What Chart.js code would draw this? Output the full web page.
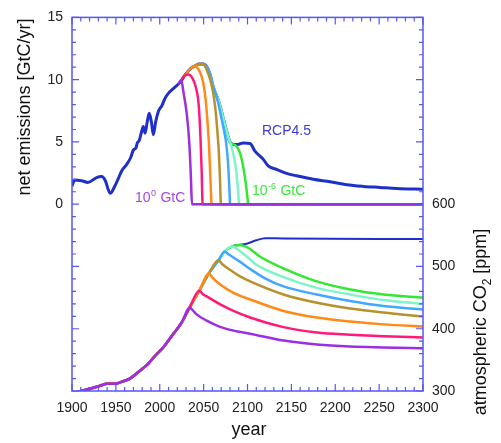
<!DOCTYPE html>
<html>
<head>
<meta charset="utf-8">
<script src="https://cdn.jsdelivr.net/npm/chart.js@4.4.1/dist/chart.umd.min.js"></script>
<style>
  html, body { margin: 0; padding: 0; background: #fff; }
  canvas { display: block; }
</style>
</head>
<body>
<canvas id="chart" width="501" height="443"></canvas>
<script>
// tick labels that are printed
const xTickLabels = [1900, 1950, 2000, 2050, 2100, 2150, 2200, 2250, 2300];
const emTickLabels = [0, 5, 10, 15];
const co2TickLabels = [300, 400, 500, 600];

// scenario names (remaining cumulative emissions)
const scenarioNames = ['10^0 GtC', '10^-1 GtC', '10^-2 GtC', '10^-3 GtC', '10^-4 GtC', '10^-5 GtC', '10^-6 GtC'];

// RCP4.5 net emissions [year, GtC/yr]
const rcpEmissions = [
  [1900, 1.45], [1903, 1.95], [1911, 1.88], [1918, 1.75], [1928, 2.14], [1934, 2.22], [1938, 1.88],
  [1943.5, 0.87], [1949, 1.48], [1953, 2.1], [1956.6, 2.67], [1962.3, 3.2], [1966.8, 3.73], [1969.9, 4.34],
  [1972.9, 4.52], [1974.4, 4.92], [1976.7, 5.13], [1979.4, 5.85], [1981.3, 6.24], [1983.2, 5.7],
  [1985.8, 6.64], [1988, 7.3], [1990.4, 6.64], [1992.7, 5.58], [1995.4, 6.64], [1998.4, 7.44],
  [2000.3, 7.7], [2002.2, 7.88], [2006, 8.5], [2009.8, 8.9], [2015.5, 9.28], [2021, 9.63], [2025, 9.95],
  [2028, 10.3], [2032, 10.65], [2036, 10.95], [2040, 11.1],
  [2045, 11.25], [2050, 11.25], [2053, 11.1], [2057, 10.5], [2061, 9.4], [2067, 8.3], [2072, 7.0],
  [2076, 5.9], [2080, 5.0], [2084, 4.8], [2089, 4.8], [2095, 4.92], [2103, 4.87], [2108.5, 4.26],
  [2118, 3.6], [2123.6, 3.07], [2133, 2.8], [2144.6, 2.48], [2156, 2.28], [2175, 2.0], [2194, 1.8],
  [2213, 1.56], [2232, 1.43], [2251, 1.35], [2270, 1.27], [2300, 1.21]
];

// emission paths of each scenario, from where it takes over from RCP4.5
const purpleEm = [[2021, 9.63], [2024.5, 9.95], [2027, 9.0], [2030.7, 7.3], [2033.7, 4.9], [2035.6, 2.0], [2036.7, 0], [2300, 0]];
const pinkEm = [[2024, 9.9], [2027, 10.2], [2030, 10.38], [2033, 10.42], [2036, 10.25], [2039, 9.85], [2041.5, 9.3],
  [2044.5, 7.9], [2046.5, 5.2], [2047.8, 2.6], [2048.5, 0.5], [2048.8, 0], [2300, 0]];
const orangeEm = [[2028, 10.3], [2032, 10.65], [2036, 10.95], [2040, 11.12], [2043.5, 10.9], [2046.5, 10.5], [2049.4, 9.8],
  [2052, 8.6], [2054, 7.0], [2056, 4.9], [2057.6, 2.3], [2058.6, 0.5], [2059, 0], [2300, 0]];
const oliveEm = [[2036, 10.95], [2040, 11.1], [2045, 11.25], [2048, 11.25], [2051, 11.15], [2054, 10.7], [2057.5, 10.0],
  [2061, 8.9], [2063.5, 7.6], [2065.5, 6.0], [2067.3, 4.2], [2068.5, 2.3], [2069.3, 0.6], [2069.6, 0], [2300, 0]];
const lightBlueEm = [[2040, 11.1], [2045, 11.25], [2050, 11.25], [2053, 11.1], [2057, 10.5], [2061, 9.4], [2064, 8.8],
  [2067, 8.0], [2070, 7.0], [2073, 6.0], [2075.5, 5.0], [2077.5, 3.6], [2079, 1.8], [2079.8, 0.5], [2080.1, 0], [2300, 0]];
const aquaEm = [[2053, 11.1], [2057, 10.5], [2061, 9.4], [2067, 8.3], [2072, 7.0], [2075, 6.2], [2078, 5.4], [2081, 4.8],
  [2084, 4.0], [2086.5, 3.0], [2088.3, 1.9], [2089.8, 0.6], [2090.4, 0], [2300, 0]];
const greenEm = [[2061, 9.4], [2067, 8.3], [2072, 7.0], [2076, 5.9], [2080, 5.0], [2082, 4.85], [2086, 4.75], [2089, 4.5],
  [2091.5, 4.1], [2094, 3.4], [2096.5, 2.4], [2098.7, 1.3], [2100.3, 0.3], [2100.8, 0], [2300, 0]];

// RCP4.5 atmospheric CO2 [year, ppm]
const rcpCo2 = [
  [1900, 296], [1908, 299], [1920, 303.5], [1932, 308.5], [1940, 311.5], [1950, 311.8], [1957, 315],
  [1966, 320], [1977, 332], [1987, 344], [1995, 357], [2004, 370], [2014, 389], [2025, 410], [2034, 434],
  [2045, 461], [2056, 489], [2067, 510], [2074, 524], [2082, 532], [2090, 534.5], [2100, 537],
  [2110, 542], [2120, 545.5], [2140, 545], [2300, 544]
];

// CO2 branches of each scenario
const purpleCo2 = [[2034, 434], [2038, 429], [2042, 423], [2053.5, 413], [2068.7, 403], [2084, 397],
  [2103, 392], [2141, 381], [2179, 374.6], [2217, 371.4], [2255, 370], [2300, 368.7]];
const pinkCo2 = [[2045, 461], [2049, 455.5], [2053.5, 452], [2069, 439], [2084, 428.6], [2103, 418],
  [2141, 402.6], [2179, 394], [2217, 390.5], [2255, 388], [2300, 386]];
const orangeCo2 = [[2056, 489], [2060, 482], [2069, 471], [2084, 457.6], [2103, 447], [2141, 428.6],
  [2179, 418], [2217, 411.6], [2255, 407], [2300, 403.6]];
const oliveCo2 = [[2067, 510], [2071, 504], [2080, 494.7], [2091.5, 484], [2103, 476], [2141, 455],
  [2179, 441.7], [2217, 432.6], [2255, 426], [2300, 419.6]];
const lightBlueCo2 = [[2074, 524], [2078, 520], [2090, 509], [2103, 496], [2120, 481], [2141, 468],
  [2179, 455], [2217, 444.5], [2255, 436.5], [2300, 431]];
const aquaCo2 = [[2082, 532], [2086, 530], [2095, 521], [2110, 503], [2141, 483], [2179, 465.6],
  [2217, 455], [2255, 446], [2300, 440]];
const greenCo2 = [[2090, 534.5], [2096, 533], [2103, 528], [2114, 516], [2141, 497], [2179, 476],
  [2217, 463], [2255, 455], [2300, 450]];

// colours
const scenarioColors = ['#9b30e0', '#ff1a78', '#ff8a1a', '#b8902c', '#42a8ff', '#7cf5c8', '#33e833'];
const rcpColor = '#1e30c8';
const frameColor = '#5656f4';

function toPoints(arr) {
  return arr.map(p => ({ x: p[0], y: p[1] }));
}

// join the shared RCP part with a scenario branch
function withHistory(rcp, branch) {
  const start = branch[0][0];
  return toPoints(rcp.filter(p => p[0] < start).concat(branch));
}

const emBranches = [purpleEm, pinkEm, orangeEm, oliveEm, lightBlueEm, aquaEm, greenEm];
const co2Branches = [purpleCo2, pinkCo2, orangeCo2, oliveCo2, lightBlueCo2, aquaCo2, greenCo2];

// first dataset is drawn on top
const datasets = [];
emBranches.forEach((b, i) => {
  datasets.push({
    label: scenarioNames[i] + ' emissions',
    data: toPoints(b),
    yAxisID: 'y',
    borderColor: scenarioColors[i],
    borderWidth: 2.5
  });
});
datasets.push({
  label: 'RCP4.5 emissions',
  data: toPoints(rcpEmissions),
  yAxisID: 'y',
  borderColor: rcpColor,
  borderWidth: 3
});
co2Branches.forEach((b, i) => {
  datasets.push({
    label: scenarioNames[i] + ' CO2',
    data: withHistory(rcpCo2, b),
    yAxisID: 'y2',
    borderColor: scenarioColors[i],
    borderWidth: 2.5
  });
});
datasets.push({
  label: 'RCP4.5 CO2',
  data: toPoints(rcpCo2),
  yAxisID: 'y2',
  borderColor: rcpColor,
  borderWidth: 2
});

// frame, inward ticks, axis titles and curve labels
const decorations = {
  id: 'decorations',
  afterDraw(chart) {
    const { ctx, chartArea: a, scales } = chart;
    ctx.save();
    ctx.strokeStyle = frameColor;
    ctx.lineWidth = 1.5;
    ctx.strokeRect(a.left, a.top, a.right - a.left, a.bottom - a.top);

    ctx.lineWidth = 1.2;
    ctx.beginPath();
    scales.x.ticks.forEach(t => {
      const px = scales.x.getPixelForValue(t.value);
      const len = t.value % 50 === 0 ? 7 : 4;
      ctx.moveTo(px, a.bottom); ctx.lineTo(px, a.bottom - len);
      ctx.moveTo(px, a.top); ctx.lineTo(px, a.top + len);
    });
    scales.y.ticks.forEach(t => {
      const py = scales.y.getPixelForValue(t.value);
      const len = t.value % 5 === 0 ? 7 : 4;
      ctx.moveTo(a.left, py); ctx.lineTo(a.left + len, py);
    });
    scales.y2.ticks.forEach(t => {
      const py = scales.y2.getPixelForValue(t.value);
      const len = t.value % 100 === 0 ? 7 : 4;
      ctx.moveTo(a.right, py); ctx.lineTo(a.right - len, py);
    });
    ctx.stroke();

    // axis titles
    const font = '"Liberation Sans", Arial, sans-serif';
    ctx.fillStyle = '#111';
    ctx.font = '18px ' + font;
    ctx.textAlign = 'center';
    ctx.textBaseline = 'alphabetic';
    ctx.fillText('year', 249, 435);

    ctx.save();
    ctx.translate(30, 107);
    ctx.rotate(-Math.PI / 2);
    ctx.fillText('net emissions [GtC/yr]', 0, 0);
    ctx.restore();

    ctx.save();
    ctx.translate(486, 322);
    ctx.rotate(-Math.PI / 2);
    ctx.textAlign = 'left';
    const p1 = 'atmospheric CO', p2 = '2', p3 = ' [ppm]';
    ctx.font = '18px ' + font;
    const w1 = ctx.measureText(p1).width, w3 = ctx.measureText(p3).width;
    ctx.font = '12px ' + font;
    const w2 = ctx.measureText(p2).width;
    let x0 = -(w1 + w2 + w3) / 2;
    ctx.font = '18px ' + font;
    ctx.fillText(p1, x0, 0);
    ctx.font = '12px ' + font;
    ctx.fillText(p2, x0 + w1, 5);
    ctx.font = '18px ' + font;
    ctx.fillText(p3, x0 + w1 + w2, 0);
    ctx.restore();

    // curve labels
    function supLabel(base, sup, rest, x, y, color) {
      ctx.fillStyle = color;
      ctx.textAlign = 'left';
      ctx.font = '14px ' + font;
      ctx.fillText(base, x, y);
      const wb = ctx.measureText(base).width;
      ctx.font = '9px ' + font;
      ctx.fillText(sup, x + wb + 0.5, y - 6);
      const ws = ctx.measureText(sup).width;
      ctx.font = '14px ' + font;
      ctx.fillText(rest, x + wb + ws + 1, y);
    }
    supLabel('10', '0', ' GtC', 135, 201.5, '#a547e0');
    supLabel('10', '-6', ' GtC', 252, 195, '#3ae83a');
    ctx.fillStyle = '#3a3ad2';
    ctx.font = '14px ' + font;
    ctx.fillText('RCP4.5', 262, 135);
    ctx.restore();
  }
};

new Chart(document.getElementById('chart'), {
  type: 'line',
  data: { datasets },
  options: {
    responsive: false,
    animation: false,
    layout: { padding: { top: 13, left: 0, right: 0, bottom: 0 } },
    elements: {
      point: { radius: 0 },
      line: { cubicInterpolationMode: 'monotone', fill: false }
    },
    plugins: { legend: { display: false }, tooltip: { enabled: false } },
    scales: {
      x: {
        type: 'linear',
        min: 1900,
        max: 2300,
        afterFit: s => { s.height = 52; },
        afterBuildTicks: s => {
          s.ticks = [];
          for (let v = 1900; v <= 2300; v += 10) s.ticks.push({ value: v });
        },
        ticks: {
          autoSkip: false,
          maxRotation: 0,
          padding: 9,
          color: '#222',
          font: { family: '"Liberation Sans", Arial, sans-serif', size: 14 },
          callback: v => xTickLabels.includes(v) ? String(v) : ''
        },
        grid: { display: true, drawOnChartArea: false, drawTicks: false },
        border: { display: false }
      },
      y: {
        position: 'left',
        min: -15,
        max: 15,
        afterFit: s => { s.width = 72; },
        afterBuildTicks: s => {
          s.ticks = [];
          for (let v = -15; v <= 15; v += 1) s.ticks.push({ value: v });
        },
        ticks: {
          autoSkip: false,
          padding: 9,
          color: '#222',
          font: { family: '"Liberation Sans", Arial, sans-serif', size: 14 },
          callback: v => emTickLabels.includes(v) ? String(v) : ''
        },
        grid: { display: true, drawOnChartArea: false, drawTicks: false },
        border: { display: false }
      },
      y2: {
        position: 'right',
        min: 300,
        max: 900,
        afterFit: s => { s.width = 78; },
        afterBuildTicks: s => {
          s.ticks = [];
          for (let v = 300; v <= 900; v += 20) s.ticks.push({ value: v });
        },
        ticks: {
          autoSkip: false,
          padding: 9,
          color: '#222',
          font: { family: '"Liberation Sans", Arial, sans-serif', size: 14 },
          callback: v => co2TickLabels.includes(v) ? String(v) : ''
        },
        grid: { display: true, drawOnChartArea: false, drawTicks: false },
        border: { display: false }
      }
    }
  },
  plugins: [decorations]
});
</script>
</body>
</html>
